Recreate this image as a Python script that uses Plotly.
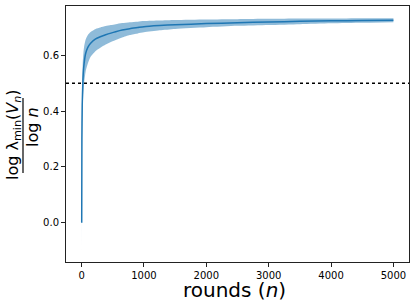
import plotly.graph_objects as go

rounds = [2, 5, 10, 20, 30, 40, 64, 100, 145, 225, 300, 386, 470, 547, 650, 772, 900, 1000,
          1250, 1500, 2000, 2500, 3000, 3500, 4000, 4500, 5000]
mean_vals = [0.0, 0.30, 0.42, 0.50, 0.545, 0.57, 0.605, 0.628, 0.643, 0.658, 0.666, 0.673, 0.679,
             0.684, 0.690, 0.695, 0.699, 0.702, 0.706, 0.709, 0.713, 0.716, 0.719, 0.721, 0.723, 0.724, 0.725]
upper_vals = [0.05, 0.38, 0.50, 0.58, 0.61, 0.63, 0.655, 0.672, 0.683, 0.694, 0.699, 0.704, 0.708,
              0.711, 0.715, 0.718, 0.720, 0.722, 0.724, 0.726, 0.728, 0.729, 0.730, 0.731, 0.731, 0.732, 0.732]
lower_vals = [-0.10, 0.20, 0.33, 0.42, 0.47, 0.50, 0.54, 0.57, 0.594, 0.615, 0.627, 0.638, 0.647,
              0.654, 0.663, 0.672, 0.678, 0.682, 0.689, 0.694, 0.700, 0.705, 0.708, 0.711, 0.714, 0.716, 0.718]
threshold = 0.5
x_ticks = [0, 1000, 2000, 3000, 4000, 5000]
y_ticks = [0.0, 0.2, 0.4, 0.6]

blue = "#1f77b4"
fig = go.Figure()
fig.add_trace(go.Scatter(x=rounds, y=lower_vals, mode="lines", line=dict(width=0, shape="spline", smoothing=0.6),
                         showlegend=False, hoverinfo="skip"))
fig.add_trace(go.Scatter(x=rounds, y=upper_vals, mode="lines", line=dict(width=0, shape="spline", smoothing=0.6),
                         fill="tonexty", fillcolor="rgba(31,119,180,0.5)",
                         showlegend=False, hoverinfo="skip"))
fig.add_trace(go.Scatter(x=rounds, y=mean_vals, mode="lines",
                         line=dict(color=blue, width=1.5, shape="spline", smoothing=0.6), showlegend=False))

fig.add_shape(type="line", xref="paper", yref="y", x0=0, x1=1, y0=threshold, y1=threshold,
              line=dict(color="black", width=1.5, dash="dot"))

W, H = 416, 308
ml, mr, mt, mb = 66, 7, 6, 46
pw, ph = W - ml - mr, H - mt - mb

def px_x(px):
    return (px - ml) / pw

def px_y(py):
    return (H - mb - py) / ph

axis_common = dict(showline=True, linecolor="#222", linewidth=1, mirror=True,
                   ticks="outside", ticklen=4, tickcolor="#222", showgrid=False,
                   zeroline=False, automargin=False,
                   tickfont=dict(family="DejaVu Sans", size=10, color="black"))

fig.update_layout(
    width=W, height=H,
    margin=dict(l=ml, r=mr, t=mt, b=mb, autoexpand=False),
    plot_bgcolor="white", paper_bgcolor="white",
    xaxis=dict(range=[-250, 5250], tickvals=x_ticks, ticktext=[str(v) for v in x_ticks], **axis_common),
    yaxis=dict(range=[-0.14, 0.776], tickvals=y_ticks, ticktext=[f"{v:.1f}" for v in y_ticks],
               **axis_common),
)

fig.add_annotation(text="rounds (<i>n</i>)", xref="paper", yref="paper",
                   x=px_x(234), y=px_y(290), xanchor="center", yanchor="middle", showarrow=False,
                   borderpad=0, font=dict(family="DejaVu Sans", size=20, color="black"))
fig.add_annotation(text="log λ<sub>min</sub>(<i>V<sub>n</sub></i>)", textangle=-90,
                   xref="paper", yref="paper", x=px_x(13), y=px_y(135),
                   xanchor="center", yanchor="middle", showarrow=False, borderpad=0,
                   font=dict(family="DejaVu Sans", size=16, color="black"))
fig.add_annotation(text="log <i>n</i>", textangle=-90,
                   xref="paper", yref="paper", x=px_x(32), y=px_y(127),
                   xanchor="center", yanchor="middle", showarrow=False, borderpad=0,
                   font=dict(family="DejaVu Sans", size=16, color="black"))
fig.add_shape(type="line", xref="paper", yref="paper", x0=px_x(23), x1=px_x(23),
              y0=px_y(173), y1=px_y(98), line=dict(color="black", width=1.2))

fig.write_html("out.html", config={"displayModeBar": False},
               post_script="document.body.style.margin='0';")
